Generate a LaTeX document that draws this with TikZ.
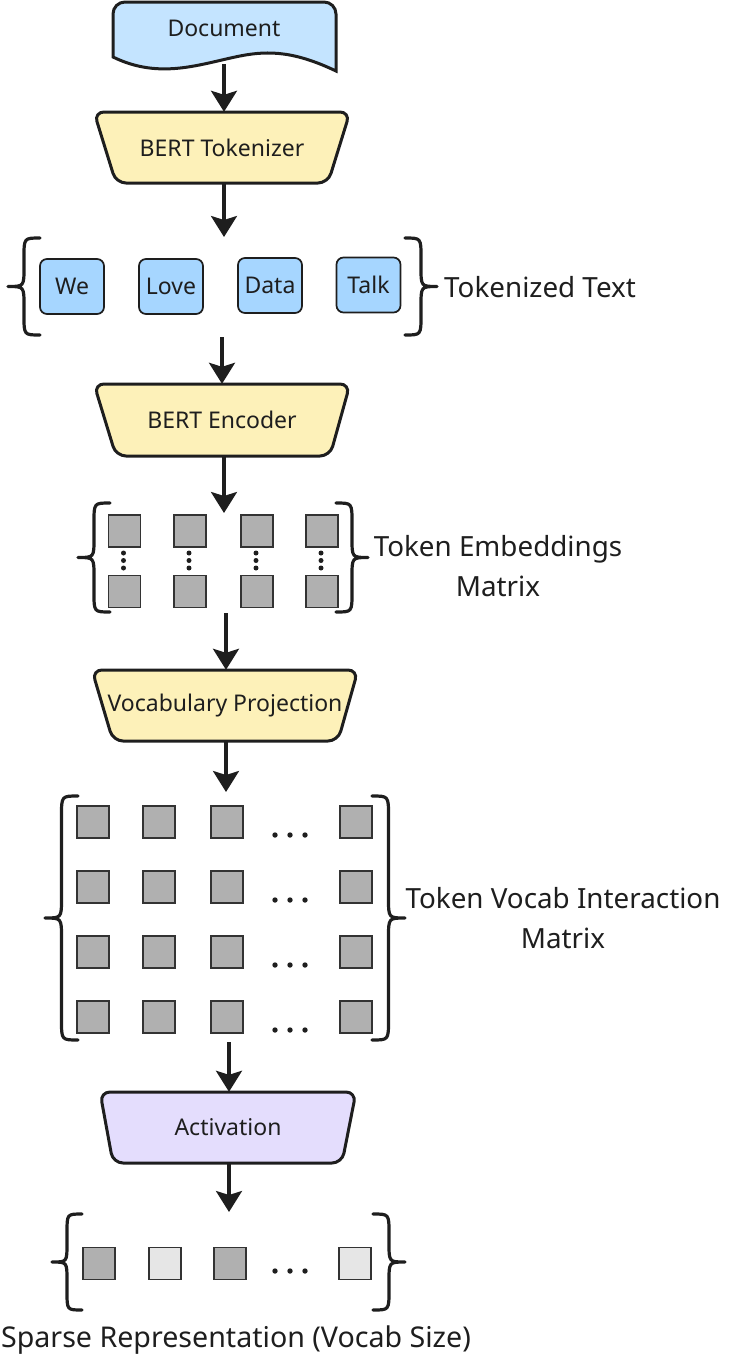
\documentclass[tikz,border=0pt]{standalone}
\usepackage{fontspec}
\setmainfont{Noto Sans}
\usetikzlibrary{arrows.meta}
\definecolor{ink}{HTML}{1E1E1E}
\definecolor{docblue}{HTML}{C4E4FF}
\definecolor{tokblue}{HTML}{A6D6FF}
\definecolor{yel}{HTML}{FDF1B9}
\definecolor{lav}{HTML}{E4DDFD}
\definecolor{sqgray}{HTML}{B0B0B0}
\definecolor{sqlight}{HTML}{E6E6E6}
\definecolor{sqedge}{HTML}{333333}
\newcommand\lbr[4]{% tip x, end x, top, bottom (left brace)
  \pgfmathsetmacro\xm{(#1+#2)/2}\pgfmathsetmacro\ym{(#3+#4)/2}
  \pgfmathsetmacro\hh{(#2-#1)*0.6}
  \draw[brace] (#2,#3) .. controls (\xm,#3) .. (\xm,#3+\hh) -- (\xm,\ym-\hh)
    .. controls (\xm,\ym) .. (#1,\ym) .. controls (\xm,\ym) .. (\xm,\ym+\hh)
    -- (\xm,#4-\hh) .. controls (\xm,#4) .. (#2,#4);}
\newcommand\hdots[2]{% start x, y
  \foreach \k in {0,1,2}{\fill[ink] (#1+15*\k,#2) circle (2.7);}}
\begin{document}
\begin{tikzpicture}[x=1pt,y=-1pt,
  box/.style={draw=ink,line width=3pt,rounded corners=10pt},
  lab/.style={font=\fontsize{23}{27}\selectfont,text=ink,inner sep=0pt},
  biglab/.style={font=\fontsize{27.8}{40}\selectfont,text=ink,inner sep=0pt,align=center},
  flow/.style={draw=ink,line width=3.2pt,-{Stealth[length=21pt,width=26pt,inset=4pt]}},
  tokbox/.style={draw=ink,line width=1.7pt,fill=tokblue,rounded corners=7pt,minimum width=64pt,minimum height=55pt,font=\fontsize{23}{27}\selectfont,text=ink,inner sep=0pt},
  sq/.style={draw=sqedge,line width=1.8pt,fill=sqgray,minimum size=32pt,inner sep=0pt},
  sql/.style={sq,fill=sqlight},
  brace/.style={draw=ink,line width=3.2pt,line cap=round,line join=round}]
\useasboundingbox (0,0) rectangle (734,1360);
% Document
\draw[box,fill=docblue,rounded corners=0pt] (113,57) -- (113,14) arc[start angle=180,end angle=270,radius=12] -- (324,2) arc[start angle=270,end angle=360,radius=12] -- (336,71)
  .. controls (296,52) and (270,50) .. (240,56) .. controls (200,64) and (160,80) .. (113,57) -- cycle;
\node[lab] (doc) at (224,28) {Document};
\coordinate (docb) at (224,64);
% BERT Tokenizer
\draw[box,fill=yel] (94,112) -- (350,112) -- (328,183) -- (116,183) -- cycle;
\node[lab,minimum height=71pt] (tok) at (222,147.5) {BERT Tokenizer};
% tokens
\node[tokbox] (we) at (72,286.5) {We};
\node[tokbox] (love) at (171,286.5) {Love};
\node[tokbox] (data) at (270,285.5) {Data};
\node[tokbox] (talk) at (368.5,285) {Talk};
\lbr{8}{40}{238}{335}
\begin{scope}[xscale=-1]\lbr{-437}{-405}{238}{335}\end{scope}
\node[biglab,anchor=west] (toktext) at (444,287) {Tokenized Text};
\coordinate (tgtop) at (224,237);
\coordinate (tgbot) at (222,337);
% BERT Encoder
\draw[box,fill=yel] (94,384) -- (350,384) -- (330,456) -- (116,456) -- cycle;
\node[lab,minimum height=72pt] (enc) at (222,420) {BERT Encoder};
% embeddings
\foreach \c/\x in {1/124.5,2/190,3/257,4/322}{
  \node[sq] (e1\c) at (\x,531) {};
  \node[sq] (e2\c) at (\x,591.5) {};
  \foreach \yy in {553,560.5,568}{\fill[ink] (\x-1,\yy) circle (2.5);}
}
\lbr{78}{110}{503}{612}
\begin{scope}[xscale=-1]\lbr{-368}{-336}{503}{612}\end{scope}
\node[biglab] (embtext) at (498,566) {Token Embeddings\\Matrix};
\coordinate (egtop) at (224,513);
\coordinate (egbot) at (226,613);
% Vocabulary Projection
\draw[box,fill=yel] (92,670) -- (358,670) -- (338,741) -- (113,741) -- cycle;
\node[lab,minimum height=71pt] (proj) at (225,705.5) {Vocabulary Projection};
% big matrix
\foreach \r/\y in {1/822,2/887,3/952,4/1017}{
  \foreach \c/\x in {1/93,2/159,3/227,4/356}{\node[sq] (m\r\c) at (\x,\y) {};}
  \hdots{275}{\y+13}
}
\lbr{45}{78}{796}{1040}
\begin{scope}[xscale=-1]\lbr{-405}{-372}{796}{1040}\end{scope}
\node[biglab] (mattext) at (563,918) {Token Vocab Interaction\\Matrix};
\coordinate (mgtop) at (226,792);
\coordinate (mgbot) at (229,1042);
% Activation
\draw[box,fill=lav] (100,1092) -- (356,1092) -- (342,1163) -- (113,1163) -- cycle;
\node[lab,minimum height=71pt] (act) at (228,1127.5) {Activation};
% sparse
\node[sq] (s1) at (99,1263.5) {};
\node[sql] (s2) at (165,1263.5) {};
\node[sq] (s3) at (230,1263.5) {};
\node[sql] (s4) at (355,1263.5) {};
\hdots{275}{1271}
\lbr{52}{82}{1214}{1310}
\begin{scope}[xscale=-1]\lbr{-405}{-373}{1214}{1310}\end{scope}
\node[biglab,font=\fontsize{28.6}{40}\selectfont] (sparsetext) at (236,1340) {Sparse Representation (Vocab Size)};
\coordinate (sgtop) at (229,1212);
% arrows
\draw[flow] (docb) -- (tok.north -| docb);
\draw[flow] (tok.south -| tgtop) -- (tgtop);
\draw[flow] (tgbot) -- (enc.north -| tgbot);
\draw[flow] (enc.south -| egtop) -- (egtop);
\draw[flow] (egbot) -- (proj.north -| egbot);
\draw[flow] (proj.south -| mgtop) -- (mgtop);
\draw[flow] (mgbot) -- (act.north -| mgbot);
\draw[flow] (act.south -| sgtop) -- (sgtop);
\end{tikzpicture}
\end{document}
